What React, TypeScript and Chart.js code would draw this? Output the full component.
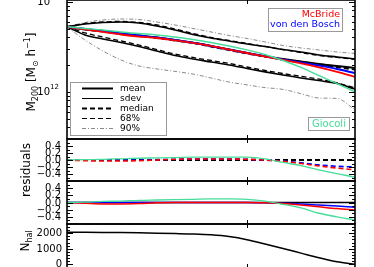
import React, { useEffect, useRef } from 'react';
import { Chart, registerables } from 'chart.js';

Chart.register(...registerables);

const FONT = '"DejaVu Sans", "Liberation Sans", Arial, sans-serif';

// ---------------- data ----------------
const X = [0, 0.5, 1, 1.5, 2, 2.5, 3, 3.5, 4, 4.5, 5, 5.5, 6, 6.5, 7, 7.5, 8];
const MASS_UNIT = 1e12;

const MEAN = [5.27, 4.97, 4.72, 4.43, 4.21, 4.0, 3.75, 3.49, 3.22, 2.94, 2.69, 2.47, 2.31, 2.17, 2.03, 1.93, 1.83];
const MEDIAN = [5.27, 4.91, 4.66, 4.38, 4.16, 3.95, 3.71, 3.48, 3.18, 2.91, 2.66, 2.46, 2.28, 2.14, 2.01, 1.88, 1.76];
const SDEV_HI = [5.27, 5.65, 5.87, 5.95, 5.8, 5.37, 4.85, 4.32, 3.95, 3.66, 3.39, 3.18, 2.94, 2.76, 2.56, 2.43, 2.31];
const SDEV_LO = [5.27, 4.27, 3.85, 3.52, 3.18, 2.83, 2.52, 2.31, 2.14, 1.98, 1.81, 1.66, 1.53, 1.42, 1.33, 1.23, 1.07];
const P68_HI = [5.27, 5.72, 5.95, 6.03, 5.87, 5.51, 4.97, 4.43, 4.0, 3.71, 3.43, 3.18, 2.94, 2.72, 2.52, 2.4, 2.28];
const P68_LO = [5.27, 4.49, 4.05, 3.66, 3.3, 2.94, 2.62, 2.4, 2.22, 2.06, 1.88, 1.72, 1.59, 1.48, 1.38, 1.25, 1.1];
const P90_HI = [5.24, 5.87, 6.26, 6.42, 6.34, 5.95, 5.51, 5.04, 4.61, 4.21, 3.9, 3.57, 3.26, 3.06, 2.91, 2.76, 2.66];
const P90_LO = [5.24, 3.75, 2.83, 2.25, 1.93, 1.79, 1.68, 1.57, 1.42, 1.28, 1.19, 1.11, 1.06, 0.95, 0.85, 0.84, 0.63];
const VDB = [5.27, 4.97, 4.72, 4.43, 4.21, 4.0, 3.75, 3.49, 3.22, 2.94, 2.69, 2.47, 2.28, 2.11, 1.95, 1.79, 1.61];
const MCBRIDE = [5.27, 4.91, 4.61, 4.32, 4.1, 3.95, 3.71, 3.48, 3.22, 2.94, 2.69, 2.46, 2.25, 2.06, 1.86, 1.66, 1.46];
const GIOCOLI = [5.27, 5.04, 4.85, 4.61, 4.43, 4.27, 4.05, 3.8, 3.52, 3.22, 2.91, 2.59, 2.22, 1.86, 1.51, 1.23, 0.99];

const RES_ZERO = [0, 0, 0, 0, 0, 0, 0, 0, 0, 0, 0, 0, 0, 0, 0, 0, 0];
const RES_MED_VDB = [0, 0, 0, 0, 0, 0.01, 0.02, 0.03, 0.03, 0.03, 0.02, 0, -0.03, -0.08, -0.14, -0.18, -0.2];
const RES_MED_MCB = [0, -0.02, -0.03, -0.03, -0.02, 0, 0.02, 0.03, 0.03, 0.03, 0.02, 0, -0.04, -0.1, -0.17, -0.23, -0.28];
const RES_MED_GIO = [0, 0.01, 0.02, 0.035, 0.05, 0.06, 0.07, 0.08, 0.085, 0.085, 0.08, 0.03, -0.07, -0.16, -0.28, -0.39, -0.49];
const RES_MEAN_VDB = [0, 0, 0, 0, 0, 0, 0, 0, 0, 0, 0, -0.01, -0.02, -0.04, -0.07, -0.1, -0.13];
const RES_MEAN_MCB = [0, -0.02, -0.04, -0.04, -0.03, -0.01, 0, 0, 0, 0, 0, -0.01, -0.03, -0.07, -0.12, -0.17, -0.21];
const RES_MEAN_GIO = [0, 0.01, 0.03, 0.04, 0.06, 0.07, 0.08, 0.09, 0.1, 0.1, 0.09, 0.04, -0.05, -0.15, -0.3, -0.4, -0.49];

const N_HALOS = [2065, 2062, 2055, 2045, 2030, 2010, 1985, 1955, 1900, 1790, 1590, 1310, 1020, 720, 420, 160, 5];

// ticks
const X_MAJOR = [5];
const M_MAJOR = [1e12, 1e13];
const M_MAJOR_LABELS = ['10', '10'];
const M_MAJOR_EXP = ['12', '13'];
const M_MINOR = [3e11, 4e11, 5e11, 6e11, 7e11, 8e11, 9e11, 2e12, 3e12, 4e12, 5e12, 6e12, 7e12, 8e12, 9e12];
const RES_MAJOR = [-0.4, -0.2, 0, 0.2, 0.4];
const RES_LABELS = ['\u22120.4', '\u22120.2', '0.0', '0.2', '0.4'];
const RES_MINOR = [-0.5, -0.3, -0.1, 0.1, 0.3, 0.5];
const N_MAJOR = [0, 1000, 2000];
const N_LABELS = ['0', '1000', '2000'];
const N_MINOR = [-200, 200, 400, 600, 800, 1200, 1400, 1600, 1800, 2200, 2400];

const LEGEND_LABELS = ['mean', 'sdev', 'median', '68%', '90%'];
const MODEL_LABELS = ['McBride', 'von den Bosch', 'Giocoli'];

// ---------------- styles ----------------
const RED = '#ff0000';
const BLUE = '#0000ff';
const GREEN = '#44dd99';
const GRAY = '#8a8a8a';
const DASH = [5, 3];
const DASHDOT = [4, 2, 1, 2];

const W = 374;
const H = 280;

type Tick = { value: number; major: boolean; label?: string; sup?: string };

function line(data: number[], color: string, width: number, dash: number[], order: number, unit = 1) {
  return {
    data: X.map((x, i) => ({ x, y: data[i] * unit })),
    borderColor: color,
    borderWidth: width,
    borderDash: dash,
    pointRadius: 0,
    cubicInterpolationMode: 'monotone',
    fill: false,
    order,
  };
}

type Seg = { t: string; size: number; dy?: number };

function drawRotated(ctx: CanvasRenderingContext2D, segs: Seg[], cx: number, cy: number) {
  ctx.save();
  ctx.translate(cx, cy);
  ctx.rotate(-Math.PI / 2);
  ctx.textAlign = 'left';
  ctx.textBaseline = 'alphabetic';
  ctx.fillStyle = '#000';
  let total = 0;
  for (const s of segs) {
    ctx.font = `${s.size}px ${FONT}`;
    total += ctx.measureText(s.t).width;
  }
  let x = -total / 2;
  for (const s of segs) {
    ctx.font = `${s.size}px ${FONT}`;
    ctx.fillText(s.t, x, 4.5 + (s.dy || 0));
    x += ctx.measureText(s.t).width;
  }
  ctx.restore();
}

interface PanelSpec {
  top: number;
  bottom: number;
  yType: 'linear' | 'logarithmic';
  yMin: number;
  yMax: number;
  datasets: any[];
  ticks: Tick[];
  labelRight: number;
  decorate?: (ctx: CanvasRenderingContext2D, chart: Chart) => void;
}

function decorPlugin(spec: PanelSpec) {
  return {
    id: 'panelDecor',
    afterDatasetsDraw(chart: Chart) {
      const ctx = chart.ctx;
      const a = chart.chartArea;
      const xs = chart.scales.x;
      const ys = chart.scales.y;
      ctx.save();
      ctx.strokeStyle = '#000';
      ctx.lineWidth = 1;
      for (const t of spec.ticks) {
        const py = Math.round(ys.getPixelForValue(t.value)) + 0.5;
        if (py < a.top || py > a.bottom) continue;
        const len = t.major ? 6 : 3;
        ctx.beginPath();
        ctx.moveTo(a.left, py);
        ctx.lineTo(a.left + len, py);
        ctx.moveTo(a.right, py);
        ctx.lineTo(a.right - len, py);
        ctx.stroke();
      }
      for (const v of X_MAJOR) {
        const px = Math.round(xs.getPixelForValue(v)) + 0.5;
        ctx.beginPath();
        ctx.moveTo(px, a.top);
        ctx.lineTo(px, a.top + 4);
        ctx.moveTo(px, a.bottom);
        ctx.lineTo(px, a.bottom - 4);
        ctx.stroke();
      }
      ctx.lineWidth = 1.6;
      ctx.strokeRect(a.left, a.top, a.right - a.left, a.bottom - a.top);

      ctx.fillStyle = '#000';
      ctx.textBaseline = 'middle';
      const right = spec.labelRight;
      for (const t of spec.ticks) {
        if (t.label === undefined) continue;
        const py = ys.getPixelForValue(t.value);
        if (t.sup) {
          ctx.font = `7px ${FONT}`;
          const sw = ctx.measureText(t.sup).width;
          ctx.textAlign = 'left';
          ctx.fillText(t.sup, right - sw, py - 4);
          ctx.font = `10px ${FONT}`;
          ctx.textAlign = 'right';
          ctx.fillText(t.label, right - sw, py + 0.5);
        } else {
          ctx.font = `10px ${FONT}`;
          ctx.textAlign = 'right';
          ctx.fillText(t.label, right, py + 0.5);
        }
      }
      if (spec.decorate) spec.decorate(ctx, chart);
      ctx.restore();
    },
  };
}

function drawMassDecor(ctx: CanvasRenderingContext2D) {
  drawRotated(
    ctx,
    [
      { t: 'M', size: 12 },
      { t: '200', size: 8, dy: 3 },
      { t: ' [M', size: 12 },
      { t: '\u2299', size: 8, dy: 3 },
      { t: ' h', size: 12 },
      { t: '\u22121', size: 8, dy: -5 },
      { t: ']', size: 12 },
    ],
    30,
    72,
  );
  // line-style legend
  ctx.save();
  ctx.fillStyle = '#fff';
  ctx.fillRect(70.5, 82.5, 96, 53);
  ctx.strokeStyle = '#999';
  ctx.lineWidth = 1;
  ctx.strokeRect(70.5, 82.5, 96, 53);
  const styles = [
    { w: 2, dash: [] as number[], c: '#000' },
    { w: 1, dash: [] as number[], c: '#000' },
    { w: 2, dash: DASH, c: '#000' },
    { w: 1, dash: DASH, c: '#000' },
    { w: 1, dash: DASHDOT, c: GRAY },
  ];
  LEGEND_LABELS.forEach((lab, i) => {
    const y = 88 + i * 10;
    const s = styles[i];
    ctx.strokeStyle = s.c;
    ctx.lineWidth = s.w;
    ctx.setLineDash(s.dash);
    ctx.beginPath();
    ctx.moveTo(82, y + 0.5);
    ctx.lineTo(113, y + 0.5);
    ctx.stroke();
    ctx.setLineDash([]);
    ctx.fillStyle = '#000';
    ctx.font = `9px ${FONT}`;
    ctx.textAlign = 'left';
    ctx.textBaseline = 'middle';
    ctx.fillText(lab, 120, y + 0.5);
  });
  // model legend top-right
  ctx.fillStyle = '#fff';
  ctx.fillRect(268.5, 8.5, 74, 23);
  ctx.strokeStyle = '#999';
  ctx.strokeRect(268.5, 8.5, 74, 23);
  ctx.font = `9.5px ${FONT}`;
  ctx.textAlign = 'right';
  ctx.textBaseline = 'middle';
  ctx.fillStyle = RED;
  ctx.fillText(MODEL_LABELS[0], 340, 15);
  ctx.fillStyle = BLUE;
  ctx.fillText(MODEL_LABELS[1], 340, 24.5);
  // Giocoli box
  ctx.fillStyle = '#fff';
  ctx.fillRect(308.5, 117.5, 41, 13);
  ctx.strokeStyle = '#999';
  ctx.strokeRect(308.5, 117.5, 41, 13);
  ctx.fillStyle = GREEN;
  ctx.font = `10px ${FONT}`;
  ctx.textAlign = 'center';
  ctx.fillText(MODEL_LABELS[2], 329, 124);
  ctx.restore();
}

const massTicks: Tick[] = [
  ...M_MAJOR.map((v, i) => ({ value: v, major: true, label: M_MAJOR_LABELS[i], sup: M_MAJOR_EXP[i] })),
  ...M_MINOR.map((v) => ({ value: v, major: false })),
];
const resTicks: Tick[] = [
  ...RES_MAJOR.map((v, i) => ({ value: v, major: true, label: RES_LABELS[i] })),
  ...RES_MINOR.map((v) => ({ value: v, major: false })),
];
const nTicks: Tick[] = [
  ...N_MAJOR.map((v, i) => ({ value: v, major: true, label: N_LABELS[i] })),
  ...N_MINOR.map((v) => ({ value: v, major: false })),
];

const PANELS: PanelSpec[] = [
  {
    top: 0,
    bottom: 139,
    yType: 'logarithmic',
    yMin: 2.98e11,
    yMax: 1.044e13,
    ticks: massTicks,
    labelRight: 59,
    datasets: [
      line(P90_HI, GRAY, 1, DASHDOT, 9, MASS_UNIT),
      line(P90_LO, GRAY, 1, DASHDOT, 9, MASS_UNIT),
      line(P68_HI, '#000', 1.3, DASH, 8, MASS_UNIT),
      line(P68_LO, '#000', 1.3, DASH, 8, MASS_UNIT),
      line(SDEV_HI, '#000', 1.6, [], 7, MASS_UNIT),
      line(SDEV_LO, '#000', 1.6, [], 7, MASS_UNIT),
      line(MEAN, '#000', 2, [], 6, MASS_UNIT),
      line(MEDIAN, '#000', 2, DASH, 5, MASS_UNIT),
      line(VDB, BLUE, 2, [], 3, MASS_UNIT),
      line(MCBRIDE, RED, 1.8, [], 2, MASS_UNIT),
      line(GIOCOLI, GREEN, 1.4, [], 1, MASS_UNIT),
    ],
    decorate: (ctx) => drawMassDecor(ctx),
  },
  {
    top: 139,
    bottom: 181,
    yType: 'linear',
    yMin: -0.6,
    yMax: 0.6,
    ticks: resTicks,
    labelRight: 61,
    datasets: [
      line(RES_ZERO, '#000', 1.8, DASH, 5),
      line(RES_MED_VDB, BLUE, 1.6, DASH, 3),
      line(RES_MED_MCB, RED, 1.6, DASH, 2),
      line(RES_MED_GIO, GREEN, 1.3, [], 1),
    ],
    decorate: (ctx) => drawRotated(ctx, [{ t: 'residuals', size: 12 }], 25, 170),
  },
  {
    top: 181,
    bottom: 224,
    yType: 'linear',
    yMin: -0.6,
    yMax: 0.6,
    ticks: resTicks,
    labelRight: 61,
    datasets: [
      line(RES_ZERO, '#000', 1.5, [], 5),
      line(RES_MEAN_VDB, BLUE, 1.5, [], 3),
      line(RES_MEAN_MCB, RED, 1.5, [], 2),
      line(RES_MEAN_GIO, GREEN, 1.3, [], 1),
    ],
  },
  {
    top: 224,
    bottom: 268,
    yType: 'linear',
    yMin: -240,
    yMax: 2600,
    ticks: nTicks,
    labelRight: 62,
    datasets: [line(N_HALOS, '#000', 1.5, [], 1)],
    decorate: (ctx) => drawRotated(ctx, [{ t: 'N', size: 12 }, { t: 'hal', size: 8, dy: 3 }], 24, 241),
  },
];

function buildConfig(spec: PanelSpec): any {
  return {
    type: 'line',
    data: { datasets: spec.datasets },
    options: {
      responsive: false,
      animation: false,
      devicePixelRatio: 1,
      events: [],
      layout: { padding: { left: 67, right: 19, top: spec.top, bottom: H - spec.bottom } },
      scales: {
        x: { type: 'linear', min: 0, max: 8, display: false },
        y: { type: spec.yType, min: spec.yMin, max: spec.yMax, display: false },
      },
      plugins: { legend: { display: false }, tooltip: { enabled: false }, title: { display: false } },
    },
    plugins: [decorPlugin(spec)],
  };
}

export default function App() {
  const canvases = useRef<(HTMLCanvasElement | null)[]>([]);
  useEffect(() => {
    const charts = PANELS.map((spec, i) => new Chart(canvases.current[i] as HTMLCanvasElement, buildConfig(spec)));
    return () => charts.forEach((c) => c.destroy());
  }, []);
  return (
    <div
      style={{
        position: 'fixed',
        left: 0,
        top: 0,
        width: W,
        height: 267,
        overflow: 'hidden',
        background: '#fff',
      }}
    >
      {PANELS.map((_, i) => (
        <canvas
          key={i}
          ref={(el) => {
            canvases.current[i] = el;
          }}
          width={W}
          height={H}
          style={{ position: 'absolute', left: 0, top: 0, width: W, height: H }}
        />
      ))}
    </div>
  );
}
